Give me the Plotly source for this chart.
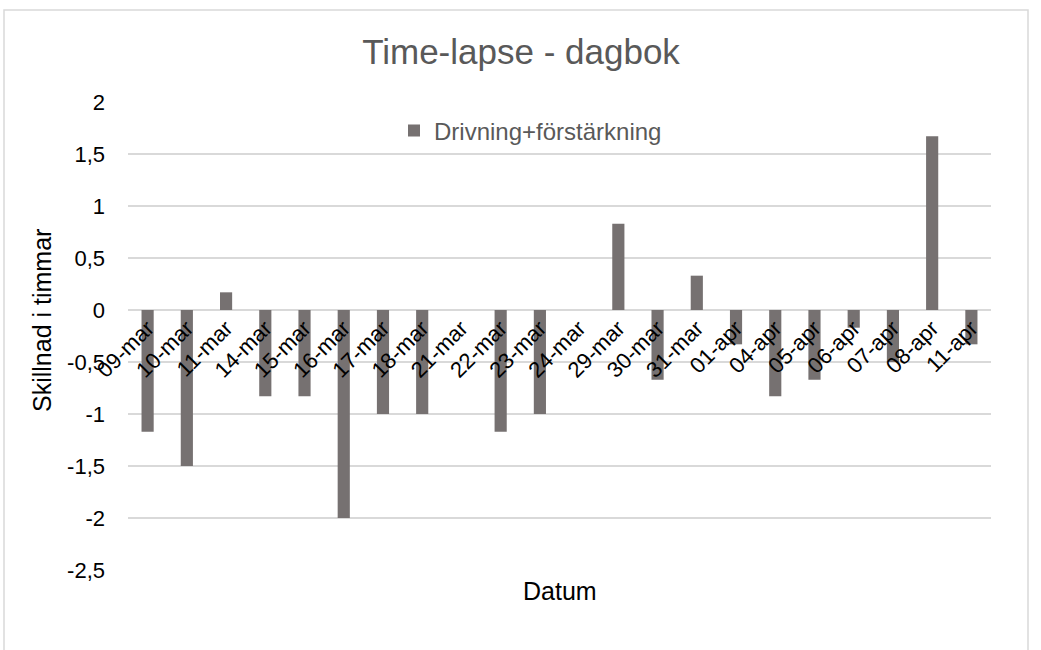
import plotly.graph_objects as go

# Daily difference in hours, per recorded date
dates = ["09-mar", "10-mar", "11-mar", "14-mar", "15-mar", "16-mar", "17-mar",
         "18-mar", "21-mar", "22-mar", "23-mar", "24-mar", "29-mar", "30-mar",
         "31-mar", "01-apr", "04-apr", "05-apr", "06-apr", "07-apr", "08-apr",
         "11-apr"]
diff_hours = [-1.17, -1.5, 0.17, -0.83, -0.83, -2.0, -1.0,
              -1.0, 0.0, -1.17, -1.0, 0.0, 0.83, -0.67,
              0.33, -0.33, -0.83, -0.67, -0.17, -0.5, 1.67,
              -0.33]

y_ticks = [2, 1.5, 1, 0.5, 0, -0.5, -1, -1.5, -2, -2.5]
y_tick_text = ["2", "1,5", "1", "0,5", "0", "-0,5", "-1", "-1,5", "-2", "-2,5"]

FONT = "Liberation Sans, Arial, sans-serif"
BAR_COLOR = "#767171"
GRID = "#d9d9d9"

W, H = 1041, 650
ML, MR, MT, MB = 128, 50, 102, 80
PW, PH = W - ML - MR, H - MT - MB


def px_x(px):
    return (px - ML) / PW


def px_y(py):
    return (H - MB - py) / PH


fig = go.Figure(
    go.Bar(
        x=dates,
        y=diff_hours,
        name="Drivning+förstärkning",
        marker=dict(color=BAR_COLOR, line=dict(width=0)),
        showlegend=True,
    )
)

y_min, y_max = -2.5, 2.0
zero_pos = (0 - y_min) / (y_max - y_min)

fig.update_layout(
    width=W,
    height=H,
    margin=dict(l=ML, r=MR, t=MT, b=MB),
    paper_bgcolor="white",
    plot_bgcolor="white",
    font=dict(family=FONT, size=22, color="#000000"),
    bargap=0.69,
    title=dict(
        text="Time-lapse - dagbok",
        font=dict(family=FONT, size=35, color="#595959"),
        x=521 / W, xref="container", xanchor="center",
        y=1 - 52 / H, yref="container", yanchor="middle",
    ),
    showlegend=True,
    legend=dict(
        orientation="h",
        x=px_x(394), y=px_y(131), xanchor="left", yanchor="middle",
        font=dict(family=FONT, size=24, color="#595959"),
        bgcolor="rgba(0,0,0,0)",
        itemwidth=30,
    ),
    xaxis=dict(
        type="category",
        anchor="free",
        position=zero_pos,
        tickangle=-45,
        showgrid=False,
        showline=False,
        zeroline=False,
        ticks="",
        tickfont=dict(family=FONT, size=22, color="#000000"),
    ),
    yaxis=dict(
        range=[y_min, y_max],
        tickvals=y_ticks,
        ticktext=y_tick_text,
        showgrid=True,
        gridcolor=GRID,
        gridwidth=1.5,
        zeroline=True,
        zerolinecolor=GRID,
        zerolinewidth=1.5,
        showline=False,
        ticks="",
        ticklabelstandoff=22,
        tickfont=dict(family=FONT, size=22, color="#000000"),
    ),
)

# axis titles placed as free text: the category labels hug the zero line,
# and the vertical title sits slightly above the plot-area centre
fig.add_annotation(
    text="Datum", xref="paper", yref="paper", x=px_x(560), y=px_y(591),
    xanchor="center", yanchor="middle", showarrow=False,
    font=dict(family=FONT, size=25, color="#000000"),
)
fig.add_annotation(
    text="Skillnad i timmar", xref="paper", yref="paper", x=px_x(42), y=px_y(321),
    xanchor="center", yanchor="middle", showarrow=False, textangle=-90,
    font=dict(family=FONT, size=25, color="#000000"),
)

# light chart-area frame
fig.add_shape(
    type="rect", xref="paper", yref="paper",
    x0=px_x(4), x1=px_x(1028),
    y0=px_y(700), y1=px_y(10),
    line=dict(color=GRID, width=1.5), fillcolor="rgba(0,0,0,0)", layer="below",
)

fig.write_html("out.html")
